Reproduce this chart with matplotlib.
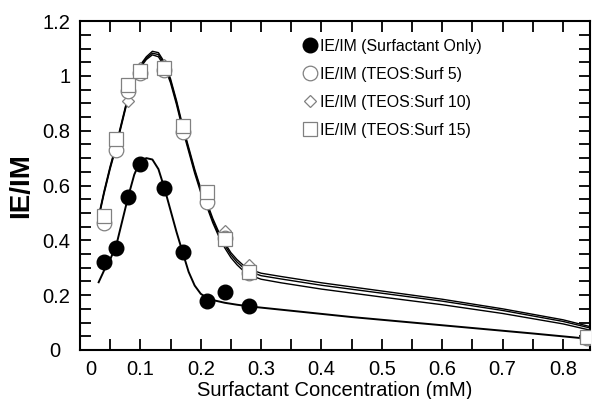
import numpy as np
import matplotlib
matplotlib.use("Agg")
import matplotlib.pyplot as plt
import matplotlib.transforms as mtransforms
from matplotlib.ticker import MultipleLocator

plt.rcParams['font.family'] = ['Liberation Sans', 'DejaVu Sans']

# measured points
x_surf = [0.04, 0.06, 0.08, 0.10, 0.14, 0.17, 0.21, 0.24, 0.28]
y_surf = [0.32, 0.373, 0.557, 0.679, 0.59, 0.357, 0.18, 0.21, 0.159]

x_teos = [0.04, 0.06, 0.08, 0.10, 0.14, 0.17, 0.21, 0.24, 0.28, 0.84]
y_teos5 = [0.465, 0.728, 0.945, 1.01, 1.02, 0.796, 0.54, 0.41, 0.28, 0.045]
y_teos10 = [0.47, 0.74, 0.907, 1.03, 1.04, 0.81, 0.56, 0.434, 0.31, 0.05]
y_teos15 = [0.49, 0.771, 0.966, 1.019, 1.03, 0.818, 0.577, 0.406, 0.284, 0.048]

# fitted curves
xc_surf = [0.031, 0.04, 0.05, 0.06, 0.07, 0.08, 0.09, 0.10, 0.11, 0.12, 0.13, 0.14,
           0.15, 0.16, 0.17, 0.18, 0.19, 0.20, 0.21, 0.22, 0.24, 0.26, 0.28, 0.35,
           0.45, 0.55, 0.65, 0.75, 0.845]
yc_surf = [0.247, 0.29, 0.33, 0.38, 0.47, 0.56, 0.64, 0.69, 0.70, 0.695, 0.66, 0.59,
           0.51, 0.43, 0.357, 0.285, 0.235, 0.205, 0.19, 0.182, 0.172, 0.165, 0.159, 0.143,
           0.12, 0.10, 0.08, 0.06, 0.04]

xc_teos = [0.032, 0.04, 0.05, 0.06, 0.07, 0.08, 0.09, 0.10, 0.11, 0.12, 0.13, 0.14,
           0.15, 0.16, 0.17, 0.18, 0.19, 0.20, 0.21, 0.22, 0.23, 0.24, 0.25, 0.26,
           0.27, 0.28, 0.30, 0.333, 0.40, 0.50, 0.60, 0.70, 0.80, 0.845]
yc_teos_a = [0.50, 0.58, 0.67, 0.75, 0.84, 0.93, 0.995, 1.04, 1.07, 1.09, 1.085, 1.05,
             0.99, 0.91, 0.82, 0.74, 0.66, 0.59, 0.54, 0.48, 0.43, 0.39, 0.355, 0.33,
             0.31, 0.295, 0.28, 0.268, 0.245, 0.215, 0.185, 0.15, 0.11, 0.085]
yc_teos_b = [0.495, 0.575, 0.665, 0.745, 0.835, 0.925, 0.99, 1.035, 1.065, 1.083, 1.078, 1.043,
             0.983, 0.903, 0.813, 0.733, 0.653, 0.583, 0.532, 0.472, 0.422, 0.382, 0.347, 0.321,
             0.301, 0.286, 0.271, 0.259, 0.236, 0.207, 0.178, 0.144, 0.104, 0.08]
yc_teos_c = [0.49, 0.57, 0.66, 0.74, 0.83, 0.92, 0.985, 1.03, 1.06, 1.077, 1.07, 1.035,
             0.975, 0.895, 0.805, 0.725, 0.645, 0.575, 0.524, 0.464, 0.414, 0.372, 0.337, 0.311,
             0.29, 0.274, 0.258, 0.245, 0.222, 0.193, 0.165, 0.133, 0.095, 0.072]

xtick_vals = [0, 0.1, 0.2, 0.3, 0.4, 0.5, 0.6, 0.7, 0.8]
xtick_labels = ['0', '0.1', '0.2', '0.3', '0.4', '0.5', '0.6', '0.7', '0.8']
ytick_vals = [0, 0.2, 0.4, 0.6, 0.8, 1.0, 1.2]
ytick_labels = ['0', '0.2', '0.4', '0.6', '0.8', '1', '1.2']

fig = plt.figure(figsize=(5.92, 3.99), dpi=100)
ax = fig.add_axes([0.135, 0.123, 0.862, 0.824])

ax.plot(xc_surf, yc_surf, color='black', lw=1.4, zorder=2)
for yc in [yc_teos_a, yc_teos_b, yc_teos_c]:
    ax.plot(xc_teos, yc, color='black', lw=1.0, zorder=2)

grey = '#808080'
ax.plot(x_surf, y_surf, 'o', ms=10.5, mfc='black', mec='black', ls='none',
        label='IE/IM (Surfactant Only)', zorder=5)
ax.plot(x_teos, y_teos10, 'D', ms=6.5, mfc='white', mec=grey, mew=0.9, ls='none',
        label='IE/IM (TEOS:Surf 10)', zorder=3)
ax.plot(x_teos, y_teos5, 'o', ms=10.5, mfc='white', mec=grey, mew=0.9, ls='none',
        label='IE/IM (TEOS:Surf 5)', zorder=4)
ax.plot(x_teos, y_teos15, 's', ms=10.5, mfc='white', mec=grey, mew=0.9, ls='none',
        label='IE/IM (TEOS:Surf 15)', zorder=4.5)

ax.set_xlim(0, 0.845)
ax.set_ylim(0, 1.2)
ax.set_xticks(xtick_vals)
ax.set_xticklabels(xtick_labels)
ax.set_yticks(ytick_vals)
ax.set_yticklabels(ytick_labels)
ax.xaxis.set_minor_locator(MultipleLocator(0.05))
ax.yaxis.set_minor_locator(MultipleLocator(0.05))
ax.tick_params(which='both', direction='in', top=True, right=True, width=1.3,
               labelsize=14.5, length=8)
ax.tick_params(axis='x', pad=7)
ax.tick_params(axis='y', pad=7)
for s in ax.spines.values():
    s.set_linewidth(1.5)

# the zero labels sit a little off their ticks in the original
ax.get_xticklabels()[0].set_transform(
    ax.get_xticklabels()[0].get_transform() + mtransforms.ScaledTranslation(11 / 100, 0, fig.dpi_scale_trans))
ax.get_yticklabels()[0].set_transform(
    ax.get_yticklabels()[0].get_transform() + mtransforms.ScaledTranslation(-10 / 100, 0, fig.dpi_scale_trans))

ax.set_xlabel('Surfactant Concentration (mM)', fontsize=14.5, labelpad=2)
ax.set_ylabel('IE/IM', fontsize=20, fontweight='bold', labelpad=6)

handles, labels = ax.get_legend_handles_labels()
order = [0, 2, 1, 3]
leg = ax.legend([handles[i] for i in order], [labels[i] for i in order],
                loc='upper left', bbox_to_anchor=(0.41, 0.99), frameon=False,
                fontsize=11.4, handlelength=0.8, handletextpad=0.25, labelspacing=0.82)

fig.savefig('out.png', dpi=100)
